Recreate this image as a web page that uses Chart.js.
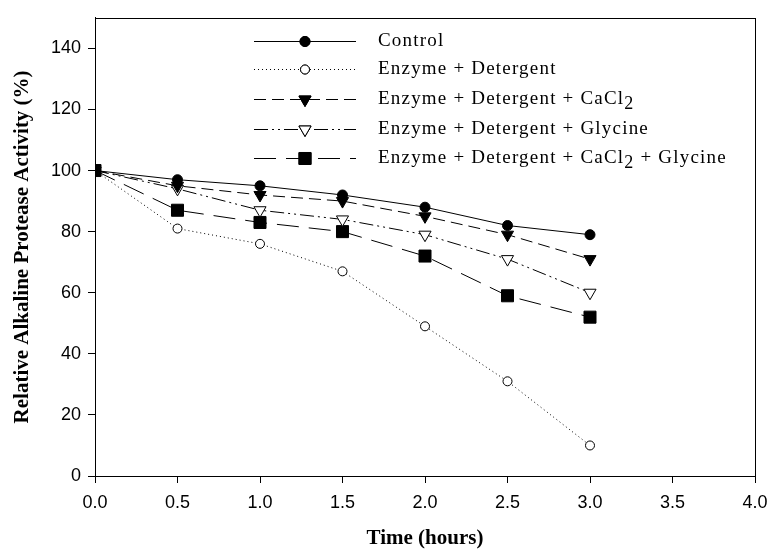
<!DOCTYPE html>
<html>
<head>
<meta charset="utf-8">
<script src="https://cdn.jsdelivr.net/npm/chart.js@4/dist/chart.umd.min.js"></script>
<style>
  html, body { margin: 0; padding: 0; background: #fff; }
  #wrap { width: 769px; height: 551px; }
</style>
</head>
<body>
<div id="wrap"><canvas id="chart"></canvas></div>
<script>
// Time (hours) and relative activity (%) per treatment
const hours = [0, 0.5, 1.0, 1.5, 2.0, 2.5, 3.0];
const control = [100, 97, 95, 92, 88, 82, 79];
const detergent = [100, 81, 76, 67, 49, 31, 10];
const detCaCl2 = [100, 95, 92, 90, 85, 79, 71];
const detGlycine = [100, 94, 87, 84, 79, 71, 60];
const detCaCl2Glycine = [100, 87, 83, 80, 72, 59, 52];

const seriesLabels = [
  'Control',
  'Enzyme + Detergent',
  'Enzyme + Detergent + CaCl2',
  'Enzyme + Detergent + Glycine',
  'Enzyme + Detergent + CaCl2 + Glycine'
];

const BLACK = '#000';
const SERIF = '"Liberation Serif", "Times New Roman", serif';
const SANS = '"Liberation Sans", Arial, sans-serif';

function pts(values) {
  return values.map((v, i) => ({ x: hours[i], y: v }));
}

const styles = [
  { dash: [], pointStyle: 'circle', radius: 5, fill: BLACK, rotation: 0 },
  { dash: [1, 3], pointStyle: 'circle', radius: 4.5, fill: '#fff', rotation: 0 },
  { dash: [12, 6], pointStyle: 'triangle', radius: 7, fill: BLACK, rotation: 180 },
  { dash: [14, 4, 2, 4, 2, 4], pointStyle: 'triangle', radius: 7, fill: '#fff', rotation: 180 },
  { dash: [22, 10], pointStyle: 'rect', radius: 8.5, fill: BLACK, rotation: 0 }
];

const seriesData = [control, detergent, detCaCl2, detGlycine, detCaCl2Glycine];

const datasets = seriesData.map((vals, i) => ({
  label: seriesLabels[i],
  data: pts(vals),
  borderColor: BLACK,
  borderWidth: 1,
  borderDash: styles[i].dash,
  pointStyle: styles[i].pointStyle,
  pointRadius: styles[i].radius,
  pointRotation: styles[i].rotation,
  pointBackgroundColor: styles[i].fill,
  pointBorderColor: BLACK,
  pointBorderWidth: 1,
  tension: 0,
  fill: false
}));

// box around plot area
const frame = {
  id: 'frame',
  afterDraw(chart) {
    const a = chart.chartArea, ctx = chart.ctx;
    ctx.save();
    ctx.strokeStyle = BLACK;
    ctx.lineWidth = 1;
    ctx.strokeRect(Math.round(a.left) + 0.5, Math.round(a.top) + 0.5,
      Math.round(a.right - a.left), Math.round(a.bottom - a.top));
    ctx.restore();
  }
};

// legend with line samples and subscripted CaCl2
const legendRows = [41, 69, 99, 129, 158];
const customLegend = {
  id: 'customLegend',
  afterDraw(chart) {
    const ctx = chart.ctx;
    const x0 = 254, x1 = 356, xm = 305, tx = 378;
    ctx.save();
    chart.data.datasets.forEach((ds, i) => {
      const y = legendRows[i] + 0.5;
      ctx.strokeStyle = BLACK;
      ctx.lineWidth = 1;
      ctx.setLineDash(ds.borderDash);
      ctx.beginPath();
      ctx.moveTo(x0, y);
      ctx.lineTo(x1, y);
      ctx.stroke();
      ctx.setLineDash([]);
      ctx.fillStyle = ds.pointBackgroundColor;
      Chart.helpers.drawPoint(ctx, {
        pointStyle: ds.pointStyle,
        radius: ds.pointRadius,
        rotation: ds.pointRotation,
        borderWidth: 1
      }, xm, y);
      ctx.fill();
      ctx.stroke();

      // text, with the 2 of CaCl2 as subscript
      ctx.fillStyle = BLACK;
      ctx.textBaseline = 'middle';
      ctx.textAlign = 'left';
      ctx.letterSpacing = '1.2px';
      const parts = ds.label.split('CaCl2');
      let x = tx;
      parts.forEach((p, k) => {
        ctx.font = '19px ' + SERIF;
        ctx.fillText(p, x, y);
        x += ctx.measureText(p).width;
        if (k < parts.length - 1) {
          ctx.fillText('CaCl', x, y);
          x += ctx.measureText('CaCl').width;
          ctx.font = '18px ' + SERIF;
          ctx.fillText('2', x, y + 5);
          x += ctx.measureText('2').width;
        }
      });
      ctx.letterSpacing = '0px';
    });
    ctx.restore();
  }
};

new Chart(document.getElementById('chart'), {
  type: 'line',
  data: { datasets },
  plugins: [frame, customLegend],
  options: {
    responsive: true,
    maintainAspectRatio: false,
    animation: false,
    layout: { padding: { top: 14, right: 0, bottom: 0, left: 0 } },
    plugins: {
      legend: { display: false },
      tooltip: { enabled: false }
    },
    scales: {
      x: {
        type: 'linear',
        min: 0,
        max: 4,
        afterFit: s => { s.height = 75; s.paddingRight = 14; },
        ticks: {
          stepSize: 0.5,
          color: BLACK,
          padding: 9,
          maxRotation: 0,
          font: { family: SANS, size: 18 },
          callback: v => v.toFixed(1)
        },
        grid: { drawOnChartArea: false, drawTicks: true, tickLength: 7, color: BLACK },
        border: { display: true, color: BLACK, width: 1 },
        title: {
          display: true,
          text: 'Time (hours)',
          color: BLACK,
          padding: { top: 0, bottom: 0 },
          font: { family: SERIF, size: 21, weight: 'bold' }
        }
      },
      y: {
        min: 0,
        max: 150,
        afterFit: s => { s.width = 95; },
        afterBuildTicks: s => { s.ticks = s.ticks.filter(t => t.value <= 140); },
        ticks: {
          stepSize: 20,
          color: BLACK,
          padding: 7,
          font: { family: SANS, size: 18 }
        },
        grid: { drawOnChartArea: false, drawTicks: true, tickLength: 7, color: BLACK },
        border: { display: true, color: BLACK, width: 1 },
        title: {
          display: true,
          text: 'Relative Alkaline Protease Activity (%)',
          color: BLACK,
          padding: { top: 10, bottom: 0 },
          font: { family: SERIF, size: 21, weight: 'bold' }
        }
      }
    }
  }
});
</script>
</body>
</html>
